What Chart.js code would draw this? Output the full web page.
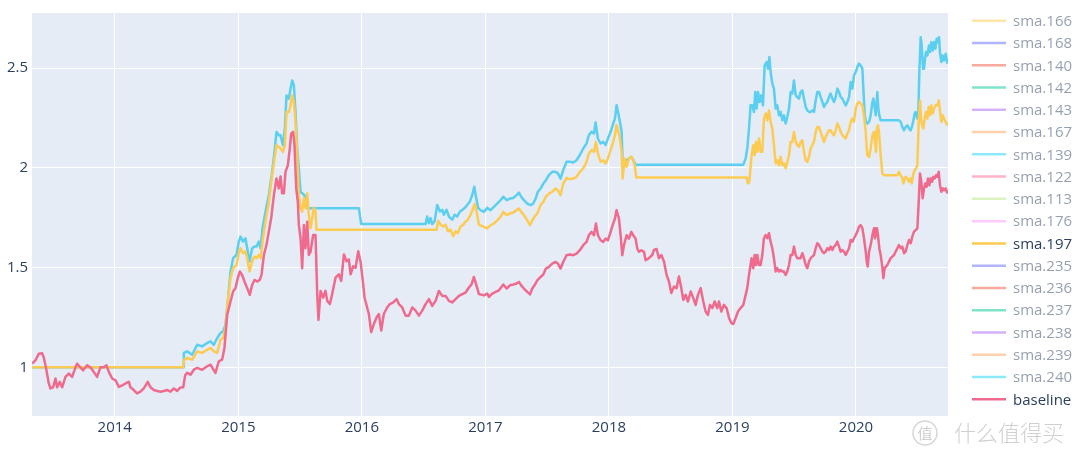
<!DOCTYPE html>
<html>
<head>
<meta charset="utf-8">
<script src="https://cdn.jsdelivr.net/npm/chart.js@4.4.1/dist/chart.umd.min.js"></script>
<style>
  html, body { margin: 0; padding: 0; background: #fff; }
  canvas { display: block; }
</style>
</head>
<body>
<canvas id="sma-chart" width="1080" height="459"></canvas>
<script>
// axis ticks
const xTickYears = [2014, 2015, 2016, 2017, 2018, 2019, 2020];
const yTickValues = [1, 1.5, 2, 2.5];

// legend entries, in the order shown
const legendNames = ['sma.166', 'sma.168', 'sma.140', 'sma.142', 'sma.143', 'sma.167', 'sma.139', 'sma.122', 'sma.113',
  'sma.176', 'sma.197', 'sma.235', 'sma.236', 'sma.237', 'sma.238', 'sma.239', 'sma.240', 'baseline'];

// baseline (decimal years / value)
const baselineYears = [2013.331, 2013.358, 2013.385, 2013.412, 2013.425, 2013.447, 2013.466, 2013.479, 2013.501, 2013.520,
  2013.533, 2013.555, 2013.574, 2013.601, 2013.628, 2013.655, 2013.682, 2013.695, 2013.722, 2013.744, 2013.776, 2013.803,
  2013.830, 2013.857, 2013.884, 2013.911, 2013.933, 2013.952, 2013.979, 2014.006, 2014.033, 2014.060, 2014.087, 2014.114,
  2014.127, 2014.154, 2014.181, 2014.208, 2014.235, 2014.267, 2014.289, 2014.316, 2014.343, 2014.370, 2014.397, 2014.424,
  2014.451, 2014.478, 2014.505, 2014.532, 2014.554, 2014.570, 2014.586, 2014.613, 2014.640, 2014.667, 2014.707, 2014.748,
  2014.775, 2014.797, 2014.815, 2014.842, 2014.869, 2014.888, 2014.910, 2014.937, 2014.958, 2014.977, 2014.996, 2015.012,
  2015.031, 2015.050, 2015.072, 2015.093, 2015.112, 2015.131, 2015.153, 2015.174, 2015.188, 2015.207, 2015.228, 2015.247,
  2015.266, 2015.288, 2015.309, 2015.328, 2015.342, 2015.355, 2015.369, 2015.382, 2015.401, 2015.417, 2015.428, 2015.444,
  2015.455, 2015.469, 2015.482, 2015.490, 2015.504, 2015.517, 2015.531, 2015.544, 2015.558, 2015.571, 2015.585, 2015.606,
  2015.625, 2015.639, 2015.649, 2015.666, 2015.687, 2015.706, 2015.720, 2015.741, 2015.760, 2015.787, 2015.814, 2015.833,
  2015.855, 2015.876, 2015.895, 2015.909, 2015.930, 2015.949, 2015.971, 2015.989, 2016.008, 2016.022, 2016.043, 2016.057,
  2016.076, 2016.097, 2016.119, 2016.138, 2016.157, 2016.178, 2016.205, 2016.227, 2016.254, 2016.281, 2016.300, 2016.327,
  2016.354, 2016.381, 2016.408, 2016.435, 2016.462, 2016.489, 2016.516, 2016.543, 2016.570, 2016.597, 2016.624, 2016.651,
  2016.678, 2016.705, 2016.732, 2016.759, 2016.786, 2016.813, 2016.840, 2016.867, 2016.888, 2016.907, 2016.929, 2016.948,
  2016.988, 2017.015, 2017.029, 2017.056, 2017.083, 2017.110, 2017.145, 2017.172, 2017.199, 2017.226, 2017.253, 2017.272,
  2017.290, 2017.312, 2017.339, 2017.361, 2017.380, 2017.398, 2017.420, 2017.447, 2017.469, 2017.490, 2017.514, 2017.541,
  2017.568, 2017.587, 2017.609, 2017.630, 2017.657, 2017.684, 2017.711, 2017.738, 2017.765, 2017.792, 2017.819, 2017.838,
  2017.860, 2017.879, 2017.895, 2017.911, 2017.933, 2017.954, 2017.973, 2017.992, 2018.014, 2018.035, 2018.049, 2018.062,
  2018.081, 2018.095, 2018.108, 2018.122, 2018.143, 2018.162, 2018.181, 2018.197, 2018.216, 2018.230, 2018.243, 2018.262,
  2018.284, 2018.297, 2018.319, 2018.351, 2018.365, 2018.386, 2018.405, 2018.424, 2018.446, 2018.467, 2018.486, 2018.505,
  2018.527, 2018.548, 2018.567, 2018.586, 2018.602, 2018.621, 2018.640, 2018.662, 2018.683, 2018.702, 2018.721, 2018.743,
  2018.764, 2018.783, 2018.802, 2018.818, 2018.837, 2018.856, 2018.877, 2018.891, 2018.910, 2018.931, 2018.953, 2018.972,
  2018.991, 2019.007, 2019.026, 2019.045, 2019.066, 2019.088, 2019.107, 2019.120, 2019.134, 2019.155, 2019.169, 2019.180,
  2019.191, 2019.201, 2019.215, 2019.228, 2019.242, 2019.255, 2019.269, 2019.282, 2019.296, 2019.309, 2019.323, 2019.336,
  2019.350, 2019.363, 2019.377, 2019.390, 2019.404, 2019.417, 2019.431, 2019.444, 2019.458, 2019.471, 2019.485, 2019.498,
  2019.512, 2019.525, 2019.539, 2019.552, 2019.566, 2019.579, 2019.593, 2019.606, 2019.620, 2019.633, 2019.647, 2019.660,
  2019.674, 2019.687, 2019.701, 2019.714, 2019.728, 2019.741, 2019.755, 2019.768, 2019.782, 2019.795, 2019.809, 2019.822,
  2019.836, 2019.849, 2019.863, 2019.876, 2019.890, 2019.903, 2019.917, 2019.930, 2019.944, 2019.957, 2019.971, 2019.984,
  2019.998, 2020.011, 2020.025, 2020.038, 2020.052, 2020.065, 2020.079, 2020.087, 2020.095, 2020.106, 2020.119, 2020.133,
  2020.146, 2020.154, 2020.162, 2020.170, 2020.178, 2020.189, 2020.200, 2020.213, 2020.222, 2020.232, 2020.243, 2020.254,
  2020.267, 2020.281, 2020.294, 2020.308, 2020.321, 2020.335, 2020.348, 2020.362, 2020.375, 2020.389, 2020.402, 2020.416,
  2020.429, 2020.443, 2020.456, 2020.470, 2020.483, 2020.497, 2020.508, 2020.518, 2020.529, 2020.540, 2020.551, 2020.562,
  2020.572, 2020.583, 2020.594, 2020.605, 2020.616, 2020.626, 2020.637, 2020.648, 2020.659, 2020.670, 2020.680, 2020.691,
  2020.702, 2020.713, 2020.726, 2020.740];
const baselineValues = [1.018, 1.035, 1.068, 1.07, 1.051, 0.985, 0.919, 0.894, 0.90, 0.944,
  0.90, 0.927, 0.90, 0.952, 0.969, 0.952, 1.0, 1.018, 1.0, 0.985, 1.01, 1.0,
  0.977, 0.952, 1.0, 1.0, 1.01, 0.977, 0.944, 0.935, 0.902, 0.91, 0.919, 0.927,
  0.90, 0.886, 0.869, 0.878, 0.894, 0.927, 0.90, 0.886, 0.881, 0.878, 0.881, 0.886,
  0.878, 0.894, 0.882, 0.899, 0.90, 0.96, 0.972, 0.963, 0.988, 0.997, 0.988, 1.005,
  1.013, 0.99, 0.972, 1.03, 1.038, 1.097, 1.263, 1.33, 1.38, 1.397, 1.447, 1.48,
  1.463, 1.43, 1.397, 1.363, 1.413, 1.438, 1.43, 1.438, 1.463, 1.563, 1.613, 1.68,
  1.747, 1.863, 1.947, 1.897, 1.957, 1.872, 1.872, 1.98, 2.013, 2.097, 2.172, 2.18,
  2.113, 1.897, 1.83, 1.713, 1.647, 1.497, 1.713, 1.597, 1.73, 1.563, 1.58, 1.663,
  1.663, 1.363, 1.238, 1.383, 1.35, 1.383, 1.333, 1.317, 1.367, 1.449, 1.466, 1.433,
  1.566, 1.532, 1.541, 1.466, 1.507, 1.499, 1.582, 1.532, 1.433, 1.35, 1.30, 1.267,
  1.176, 1.217, 1.25, 1.267, 1.184, 1.267, 1.30, 1.317, 1.325, 1.342, 1.317, 1.30,
  1.259, 1.259, 1.30, 1.284, 1.259, 1.284, 1.317, 1.342, 1.308, 1.333, 1.383, 1.358,
  1.358, 1.333, 1.325, 1.342, 1.358, 1.367, 1.375, 1.40, 1.416, 1.453, 1.408, 1.367,
  1.361, 1.370, 1.353, 1.370, 1.378, 1.386, 1.415, 1.395, 1.411, 1.415, 1.420, 1.428,
  1.411, 1.395, 1.378, 1.366, 1.395, 1.411, 1.436, 1.453, 1.465, 1.495, 1.503, 1.520,
  1.528, 1.520, 1.495, 1.528, 1.562, 1.565, 1.562, 1.570, 1.587, 1.612, 1.629, 1.662,
  1.679, 1.662, 1.721, 1.662, 1.637, 1.629, 1.645, 1.637, 1.679, 1.721, 1.746, 1.788,
  1.746, 1.662, 1.562, 1.612, 1.662, 1.645, 1.679, 1.662, 1.645, 1.595, 1.579, 1.587,
  1.579, 1.537, 1.545, 1.563, 1.588, 1.593, 1.547, 1.563, 1.53, 1.463, 1.43, 1.372,
  1.405, 1.397, 1.455, 1.397, 1.338, 1.363, 1.33, 1.38, 1.347, 1.313, 1.363, 1.397,
  1.33, 1.28, 1.263, 1.313, 1.297, 1.33, 1.297, 1.33, 1.28, 1.313, 1.297, 1.247,
  1.222, 1.217, 1.247, 1.28, 1.297, 1.313, 1.363, 1.397, 1.463, 1.547, 1.497, 1.563,
  1.513, 1.563, 1.513, 1.513, 1.563, 1.647, 1.663, 1.647, 1.672, 1.63, 1.597, 1.547,
  1.48, 1.497, 1.48, 1.488, 1.48, 1.48, 1.463, 1.48, 1.513, 1.563, 1.563, 1.605,
  1.563, 1.547, 1.547, 1.547, 1.572, 1.547, 1.513, 1.497, 1.53, 1.547, 1.555, 1.563,
  1.597, 1.622, 1.613, 1.597, 1.58, 1.572, 1.58, 1.597, 1.588, 1.605, 1.588, 1.605,
  1.613, 1.63, 1.605, 1.58, 1.588, 1.58, 1.563, 1.58, 1.597, 1.638, 1.63, 1.647,
  1.663, 1.68, 1.705, 1.713, 1.697, 1.647, 1.58, 1.53, 1.505, 1.58, 1.613, 1.663,
  1.697, 1.647, 1.663, 1.697, 1.663, 1.597, 1.563, 1.505, 1.447, 1.497, 1.505, 1.513,
  1.53, 1.547, 1.555, 1.563, 1.58, 1.597, 1.613, 1.597, 1.605, 1.572, 1.58, 1.613,
  1.638, 1.622, 1.655, 1.68, 1.688, 1.697, 1.83, 1.972, 1.93, 1.847, 1.897, 1.922,
  1.905, 1.947, 1.913, 1.947, 1.93, 1.955, 1.947, 1.963, 1.955, 1.98, 1.913, 1.88,
  1.897, 1.888, 1.897, 1.872];

// the upper (cyan) moving-average line
const upperYears = [2013.331, 2014.553, 2014.559, 2014.586, 2014.626, 2014.667, 2014.707, 2014.748, 2014.775, 2014.802,
  2014.829, 2014.856, 2014.877, 2014.896, 2014.915, 2014.937, 2014.958, 2014.985, 2015.004, 2015.018, 2015.039, 2015.058,
  2015.072, 2015.091, 2015.112, 2015.131, 2015.147, 2015.166, 2015.180, 2015.196, 2015.220, 2015.247, 2015.274, 2015.293,
  2015.309, 2015.328, 2015.342, 2015.361, 2015.377, 2015.390, 2015.409, 2015.423, 2015.436, 2015.450, 2015.463, 2015.477,
  2015.490, 2015.504, 2015.517, 2015.536, 2015.558, 2015.976, 2015.995, 2016.516, 2016.529, 2016.543, 2016.556, 2016.570,
  2016.589, 2016.610, 2016.632, 2016.651, 2016.664, 2016.686, 2016.705, 2016.732, 2016.751, 2016.772, 2016.794, 2016.813,
  2016.832, 2016.853, 2016.875, 2016.894, 2016.910, 2016.926, 2016.942, 2016.961, 2016.988, 2017.015, 2017.042, 2017.069,
  2017.096, 2017.123, 2017.145, 2017.172, 2017.199, 2017.226, 2017.253, 2017.272, 2017.290, 2017.312, 2017.339, 2017.366,
  2017.388, 2017.407, 2017.425, 2017.447, 2017.469, 2017.490, 2017.514, 2017.541, 2017.568, 2017.587, 2017.609, 2017.630,
  2017.657, 2017.684, 2017.711, 2017.738, 2017.765, 2017.792, 2017.819, 2017.838, 2017.860, 2017.879, 2017.892, 2017.911,
  2017.933, 2017.954, 2017.973, 2017.992, 2018.014, 2018.035, 2018.049, 2018.062, 2018.076, 2018.089, 2018.103, 2018.111,
  2018.122, 2018.143, 2018.162, 2018.181, 2018.197, 2018.216, 2019.088, 2019.107, 2019.120, 2019.134, 2019.147, 2019.161,
  2019.174, 2019.185, 2019.196, 2019.207, 2019.220, 2019.234, 2019.247, 2019.261, 2019.277, 2019.288, 2019.299, 2019.309,
  2019.323, 2019.336, 2019.350, 2019.363, 2019.377, 2019.390, 2019.404, 2019.417, 2019.431, 2019.444, 2019.458, 2019.471,
  2019.485, 2019.498, 2019.512, 2019.525, 2019.539, 2019.552, 2019.566, 2019.579, 2019.593, 2019.606, 2019.620, 2019.633,
  2019.647, 2019.660, 2019.674, 2019.687, 2019.701, 2019.714, 2019.728, 2019.741, 2019.755, 2019.768, 2019.782, 2019.795,
  2019.809, 2019.822, 2019.836, 2019.849, 2019.863, 2019.876, 2019.890, 2019.903, 2019.917, 2019.930, 2019.944, 2019.957,
  2019.971, 2019.984, 2019.998, 2020.011, 2020.025, 2020.038, 2020.052, 2020.060, 2020.071, 2020.081, 2020.092, 2020.106,
  2020.119, 2020.133, 2020.141, 2020.151, 2020.160, 2020.168, 2020.173, 2020.181, 2020.189, 2020.200, 2020.348, 2020.362,
  2020.375, 2020.389, 2020.402, 2020.416, 2020.429, 2020.443, 2020.456, 2020.465, 2020.475, 2020.483, 2020.497, 2020.505,
  2020.513, 2020.524, 2020.532, 2020.543, 2020.551, 2020.559, 2020.567, 2020.578, 2020.591, 2020.599, 2020.610, 2020.621,
  2020.632, 2020.643, 2020.653, 2020.664, 2020.672, 2020.680, 2020.691, 2020.702, 2020.713, 2020.726, 2020.740];
const upperValues = [1.0, 1.0, 1.072, 1.08, 1.063, 1.113, 1.105, 1.122, 1.13, 1.113,
  1.147, 1.172, 1.18, 1.213, 1.33, 1.48, 1.547, 1.563, 1.63, 1.655, 1.63, 1.647,
  1.597, 1.53, 1.597, 1.605, 1.605, 1.63, 1.597, 1.697, 1.78, 1.863, 1.98, 2.08,
  2.18, 2.163, 2.163, 2.113, 2.197, 2.363, 2.347, 2.397, 2.438, 2.413, 2.28, 2.097,
  1.997, 1.88, 1.872, 1.863, 1.797, 1.797, 1.718, 1.718, 1.756, 1.723, 1.748, 1.718,
  1.731, 1.814, 1.781, 1.789, 1.765, 1.789, 1.756, 1.74, 1.765, 1.756, 1.781, 1.789,
  1.798, 1.814, 1.831, 1.864, 1.905, 1.847, 1.798, 1.788, 1.779, 1.799, 1.788, 1.804,
  1.821, 1.838, 1.855, 1.838, 1.846, 1.849, 1.863, 1.876, 1.855, 1.838, 1.821, 1.813,
  1.821, 1.846, 1.880, 1.896, 1.921, 1.938, 1.963, 1.980, 1.980, 1.972, 1.946, 1.988,
  2.030, 2.030, 2.027, 2.038, 2.064, 2.097, 2.122, 2.164, 2.181, 2.172, 2.227, 2.147,
  2.122, 2.130, 2.114, 2.147, 2.181, 2.222, 2.247, 2.314, 2.273, 2.231, 2.181, 2.030,
  2.027, 2.038, 2.047, 2.055, 2.038, 2.015, 2.015, 2.047, 2.097, 2.197, 2.313, 2.313,
  2.28, 2.38, 2.297, 2.38, 2.33, 2.363, 2.313, 2.513, 2.53, 2.497, 2.555, 2.48,
  2.422, 2.397, 2.297, 2.313, 2.263, 2.28, 2.238, 2.263, 2.222, 2.255, 2.297, 2.38,
  2.372, 2.438, 2.363, 2.355, 2.347, 2.38, 2.388, 2.347, 2.305, 2.288, 2.28, 2.28,
  2.288, 2.28, 2.338, 2.38, 2.38, 2.355, 2.33, 2.305, 2.322, 2.33, 2.355, 2.372,
  2.347, 2.33, 2.355, 2.397, 2.38, 2.355, 2.347, 2.33, 2.313, 2.33, 2.355, 2.43,
  2.397, 2.463, 2.48, 2.505, 2.522, 2.513, 2.497, 2.397, 2.263, 2.23, 2.222, 2.23,
  2.263, 2.33, 2.347, 2.305, 2.263, 2.338, 2.38, 2.297, 2.263, 2.238, 2.238, 2.23,
  2.205, 2.188, 2.205, 2.213, 2.197, 2.188, 2.213, 2.238, 2.272, 2.28, 2.247, 2.28,
  2.48, 2.655, 2.613, 2.497, 2.497, 2.547, 2.58, 2.563, 2.613, 2.58, 2.63, 2.588,
  2.63, 2.597, 2.647, 2.63, 2.655, 2.58, 2.53, 2.563, 2.538, 2.572, 2.522];

// sma.197
const sma197Years = [2013.331, 2014.553, 2014.562, 2014.586, 2014.626, 2014.667, 2014.707, 2014.748, 2014.775, 2014.802,
  2014.829, 2014.856, 2014.877, 2014.896, 2014.915, 2014.937, 2014.958, 2014.985, 2015.004, 2015.018, 2015.039, 2015.058,
  2015.072, 2015.091, 2015.112, 2015.131, 2015.147, 2015.166, 2015.180, 2015.196, 2015.220, 2015.247, 2015.274, 2015.293,
  2015.309, 2015.328, 2015.342, 2015.361, 2015.377, 2015.390, 2015.409, 2015.423, 2015.436, 2015.450, 2015.463, 2015.477,
  2015.490, 2015.504, 2015.517, 2015.531, 2015.544, 2015.558, 2015.571, 2015.585, 2015.598, 2015.612, 2015.625, 2015.633,
  2016.605, 2016.618, 2016.637, 2016.659, 2016.678, 2016.697, 2016.718, 2016.740, 2016.759, 2016.778, 2016.799, 2016.821,
  2016.840, 2016.859, 2016.880, 2016.896, 2016.913, 2016.929, 2016.948, 2016.961, 2016.988, 2017.015, 2017.042, 2017.069,
  2017.096, 2017.123, 2017.145, 2017.172, 2017.199, 2017.226, 2017.253, 2017.272, 2017.290, 2017.312, 2017.339, 2017.361,
  2017.380, 2017.398, 2017.420, 2017.447, 2017.469, 2017.490, 2017.514, 2017.541, 2017.568, 2017.587, 2017.609, 2017.630,
  2017.657, 2017.684, 2017.711, 2017.738, 2017.765, 2017.792, 2017.819, 2017.838, 2017.860, 2017.879, 2017.895, 2017.911,
  2017.933, 2017.954, 2017.973, 2017.992, 2018.014, 2018.035, 2018.049, 2018.062, 2018.076, 2018.089, 2018.103, 2018.111,
  2018.127, 2018.143, 2018.162, 2018.181, 2018.197, 2018.211, 2018.222, 2019.115, 2019.126, 2019.137, 2019.155, 2019.169,
  2019.180, 2019.191, 2019.201, 2019.215, 2019.228, 2019.242, 2019.255, 2019.269, 2019.282, 2019.296, 2019.309, 2019.323,
  2019.336, 2019.350, 2019.363, 2019.377, 2019.390, 2019.404, 2019.417, 2019.431, 2019.444, 2019.458, 2019.471, 2019.485,
  2019.498, 2019.512, 2019.525, 2019.539, 2019.552, 2019.566, 2019.579, 2019.593, 2019.606, 2019.620, 2019.633, 2019.647,
  2019.660, 2019.674, 2019.687, 2019.701, 2019.714, 2019.728, 2019.741, 2019.755, 2019.768, 2019.782, 2019.795, 2019.809,
  2019.822, 2019.836, 2019.849, 2019.863, 2019.876, 2019.890, 2019.903, 2019.917, 2019.930, 2019.944, 2019.957, 2019.971,
  2019.984, 2019.998, 2020.011, 2020.025, 2020.038, 2020.052, 2020.065, 2020.079, 2020.087, 2020.092, 2020.106, 2020.119,
  2020.133, 2020.146, 2020.154, 2020.162, 2020.170, 2020.178, 2020.186, 2020.194, 2020.205, 2020.213, 2020.227, 2020.335,
  2020.348, 2020.362, 2020.375, 2020.384, 2020.394, 2020.402, 2020.416, 2020.429, 2020.443, 2020.451, 2020.462, 2020.475,
  2020.486, 2020.497, 2020.508, 2020.518, 2020.529, 2020.537, 2020.545, 2020.556, 2020.567, 2020.578, 2020.589, 2020.599,
  2020.610, 2020.621, 2020.632, 2020.645, 2020.659, 2020.670, 2020.680, 2020.691, 2020.702, 2020.713, 2020.726, 2020.740];
const sma197Values = [1.0, 1.0, 1.038, 1.047, 1.038, 1.08, 1.072, 1.088, 1.097, 1.08,
  1.072, 1.138, 1.147, 1.197, 1.33, 1.447, 1.497, 1.513, 1.572, 1.597, 1.572, 1.58,
  1.547, 1.48, 1.53, 1.555, 1.547, 1.563, 1.547, 1.63, 1.73, 1.83, 1.963, 2.047,
  2.113, 2.105, 2.097, 2.08, 2.113, 2.28, 2.28, 2.313, 2.363, 2.33, 2.23, 2.063,
  1.863, 1.797, 1.78, 1.847, 1.797, 1.872, 1.763, 1.697, 1.747, 1.80, 1.78, 1.69,
  1.69, 1.735, 1.715, 1.706, 1.715, 1.682, 1.69, 1.657, 1.682, 1.673, 1.706, 1.715,
  1.731, 1.74, 1.765, 1.789, 1.818, 1.781, 1.715, 1.712, 1.704, 1.696, 1.712, 1.721,
  1.737, 1.754, 1.779, 1.763, 1.771, 1.776, 1.788, 1.796, 1.779, 1.763, 1.737, 1.712,
  1.737, 1.754, 1.771, 1.813, 1.829, 1.855, 1.871, 1.880, 1.896, 1.888, 1.863, 1.921,
  1.950, 1.943, 1.946, 1.955, 1.980, 1.997, 2.030, 2.072, 2.089, 2.080, 2.130, 2.072,
  2.030, 2.038, 2.022, 2.047, 2.089, 2.130, 2.164, 2.214, 2.181, 2.147, 2.080, 1.946,
  2.047, 2.005, 2.047, 2.055, 2.038, 2.005, 1.952, 1.952, 1.922, 1.93, 2.063, 2.113,
  2.063, 2.13, 2.08, 2.147, 2.08, 2.08, 2.247, 2.272, 2.238, 2.288, 2.23, 2.197,
  2.113, 2.022, 2.038, 2.013, 2.055, 2.013, 2.022, 1.997, 2.03, 2.063, 2.13, 2.13,
  2.18, 2.13, 2.113, 2.105, 2.13, 2.138, 2.08, 2.038, 2.03, 2.055, 2.097, 2.113,
  2.13, 2.18, 2.205, 2.205, 2.18, 2.155, 2.13, 2.155, 2.172, 2.188, 2.188, 2.172,
  2.163, 2.188, 2.222, 2.205, 2.18, 2.163, 2.155, 2.147, 2.172, 2.188, 2.23, 2.247,
  2.23, 2.297, 2.322, 2.33, 2.322, 2.313, 2.263, 2.18, 2.097, 2.063, 2.055, 2.097,
  2.163, 2.18, 2.13, 2.08, 2.197, 2.213, 2.18, 2.113, 2.03, 1.972, 1.963, 1.963,
  1.98, 1.963, 1.947, 1.922, 1.947, 1.955, 1.947, 1.93, 1.947, 1.922, 1.963, 1.988,
  1.997, 2.013, 2.23, 2.338, 2.23, 2.213, 2.197, 2.247, 2.28, 2.247, 2.305, 2.263,
  2.313, 2.272, 2.297, 2.313, 2.313, 2.338, 2.288, 2.23, 2.263, 2.247, 2.23, 2.213];

// plotly-style colours, one per legend entry
const legendColors = ['#FECB52', '#636EFA', '#EF553B', '#00CC96', '#AB63FA', '#FFA15A', '#19D3F3', '#FF6692', '#B6E880',
  '#FF97FF', '#FECB52', '#636EFA', '#EF553B', '#00CC96', '#AB63FA', '#FFA15A', '#19D3F3', '#EF6A8C'];

function toPoints(xs, ys) {
  return xs.map((x, i) => ({ x: x, y: ys[i] }));
}

const seriesByName = {
  'sma.197': toPoints(sma197Years, sma197Values),
  'baseline': toPoints(baselineYears, baselineValues)
};

const datasets = legendNames.map((name, i) => {
  const pts = seriesByName[name] || [];
  return {
    label: name,
    data: pts,
    hidden: pts.length === 0,
    inLegend: true,
    borderColor: legendColors[i],
    borderWidth: 2.5,
    borderJoinStyle: 'round',
    order: name === 'baseline' ? 0 : 1
  };
});
datasets.push({
  label: 'sma',
  data: toPoints(upperYears, upperValues),
  inLegend: false,
  borderColor: '#5BCFEF',
  borderWidth: 2.5,
  borderJoinStyle: 'round',
  order: 2
});

Chart.defaults.font.family = '"Open Sans", "Noto Sans", sans-serif';

const plotBackground = {
  id: 'plotBackground',
  beforeDraw(chart) {
    const { ctx, chartArea: a } = chart;
    ctx.save();
    ctx.fillStyle = '#E5ECF6';
    ctx.fillRect(a.left, a.top, a.right - a.left, a.bottom - a.top);
    ctx.restore();
  }
};

// plotly-like legend: dim entries for hidden traces
const sideLegend = {
  id: 'sideLegend',
  afterDraw(chart) {
    const ctx = chart.ctx;
    const x0 = chart.chartArea.right + 24;
    let y = 20.7;
    ctx.save();
    ctx.font = '15px "Open Sans", sans-serif';
    ctx.textBaseline = 'middle';
    chart.data.datasets.forEach((ds, i) => {
      if (!ds.inLegend) return;
      ctx.globalAlpha = chart.isDatasetVisible(i) ? 1 : 0.5;
      ctx.strokeStyle = ds.borderColor;
      ctx.lineWidth = 2.5;
      ctx.beginPath();
      ctx.moveTo(x0, y);
      ctx.lineTo(x0 + 34, y);
      ctx.stroke();
      ctx.fillStyle = '#2a3f5f';
      ctx.fillText(ds.label, x0 + 41, y + 1);
      y += 22.27;
    });
    ctx.restore();
  }
};

const watermark = {
  id: 'watermark',
  afterDraw(chart) {
    const ctx = chart.ctx;
    ctx.save();
    ctx.strokeStyle = '#d6d6d6';
    ctx.lineWidth = 1.5;
    ctx.beginPath();
    ctx.arc(925, 433, 12, 0, Math.PI * 2);
    ctx.stroke();
    ctx.fillStyle = '#cfcfcf';
    ctx.textBaseline = 'middle';
    ctx.textAlign = 'center';
    ctx.font = '15px "Noto Sans CJK SC"';
    ctx.fillText('值', 925, 433);
    ctx.textAlign = 'left';
    ctx.font = '300 22px "Noto Sans CJK SC"';
    ctx.fillText('什么值得买', 954, 433);
    ctx.restore();
  }
};

new Chart(document.getElementById('sma-chart'), {
  type: 'line',
  data: { datasets: datasets },
  options: {
    responsive: false,
    animation: false,
    devicePixelRatio: 1,
    elements: { point: { radius: 0 }, line: { tension: 0 } },
    layout: { padding: { top: 10, right: 132, bottom: 0, left: 0 } },
    plugins: { legend: { display: false }, tooltip: { enabled: false } },
    scales: {
      x: {
        type: 'linear',
        min: 2013.33,
        max: 2020.745,
        afterBuildTicks: s => { s.ticks = xTickYears.map(v => ({ value: v })); },
        afterFit: s => { s.height = 43; },
        grid: { color: '#ffffff', lineWidth: 1, drawTicks: false },
        border: { display: false },
        ticks: { color: '#2a3f5f', font: { size: 15 }, padding: 3, maxRotation: 0, callback: v => String(v) }
      },
      y: {
        min: 0.756,
        max: 2.776,
        afterBuildTicks: s => { s.ticks = yTickValues.map(v => ({ value: v })); },
        afterFit: s => { s.width = 32; },
        grid: { color: '#ffffff', lineWidth: 1, drawTicks: false },
        border: { display: false },
        ticks: { color: '#2a3f5f', font: { size: 15 }, padding: 4, callback: v => String(v) }
      }
    }
  },
  plugins: [plotBackground, sideLegend, watermark]
});
</script>
</body>
</html>
